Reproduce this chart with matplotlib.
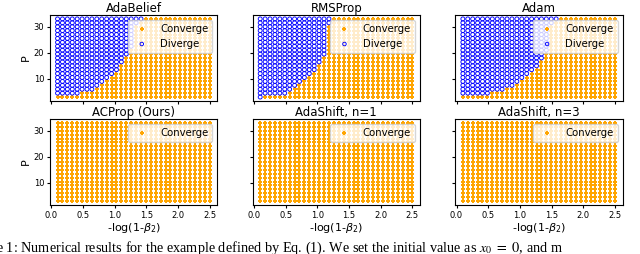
import numpy as np
import matplotlib.pyplot as plt

# grid of experiments
x_vals = np.linspace(0.1, 2.5, 32)      # -log(1-beta2)
p_vals = np.arange(3, 33.1, 1.5)        # P

NONE = 99
# lowest P that diverges, per column of x (NONE = all converge)
adabelief_div = [4.5, 4.5, 4.5, 4.5, 4.5, 6, 6, 6, 7.5, 9, 10.5, 12, 13.5, 16.5,
                 19.5, 22.5, 31.5, 33] + [NONE] * 14
rmsprop_div = [3, 4.5, 4.5, 4.5, 4.5, 4.5, 6, 7.5, 9, 10.5, 12, 13.5, 16.5, 19.5,
               31.5] + [NONE] * 17
adam_div = [4.5, 4.5, 4.5, 4.5, 4.5, 4.5, 6, 6, 6, 7.5, 7.5, 9, 10.5, 12, 13.5, 15,
            18, 21, 31.5, 33] + [NONE] * 12
no_div = [NONE] * 32

titles = ['AdaBelief', 'RMSProp', 'Adam', 'ACProp (Ours)', 'AdaShift, n=1', 'AdaShift, n=3']
results = [adabelief_div, rmsprop_div, adam_div, no_div, no_div, no_div]

fig, axes = plt.subplots(2, 3, figsize=(6.4, 2.54), dpi=100, sharex=True, sharey=True)
fig.subplots_adjust(left=0.078, right=0.973, top=0.941, bottom=0.193, wspace=0.21, hspace=0.21)

X, Y = np.meshgrid(x_vals, p_vals)
for ax, title, div in zip(axes.flat, titles, results):
    thr = np.array(div, dtype=float)[None, :]
    diverge = Y >= thr
    ax.scatter(X[~diverge], Y[~diverge], marker='P', s=9, color='orange', lw=0, label='Converge')
    if diverge.any():
        ax.scatter(X[diverge], Y[diverge], marker='o', s=8, facecolors='none',
                   edgecolors='blue', lw=0.65, label='Diverge')
    ax.set_title(title, fontsize=8.5, pad=2)
    ax.tick_params(labelsize=6, length=2.5, pad=1.5)
    ax.legend(loc='upper right', fontsize=7.3, handletextpad=0.8, borderpad=0.4,
              labelspacing=0.45, handlelength=2.0, markerscale=0.9)

for ax in axes[:, 0]:
    ax.set_ylabel('P', fontsize=8, labelpad=2)
for ax in axes[1]:
    ax.set_xlabel(r'-log(1-$\beta_2$)', fontsize=8, labelpad=1)
axes[0, 0].set_xticks([0.0, 0.5, 1.0, 1.5, 2.0, 2.5])
axes[0, 0].set_yticks([10, 20, 30])

fig.text(-0.006, 0.009, r'e 1: Numerical results for the example defined by Eq. (1). We set the initial value as $x_0\ =\ 0$, and m',
         fontsize=10.3, family='Liberation Serif', math_fontfamily='stix', ha='left', va='baseline')

fig.savefig('out.png', dpi=100)
